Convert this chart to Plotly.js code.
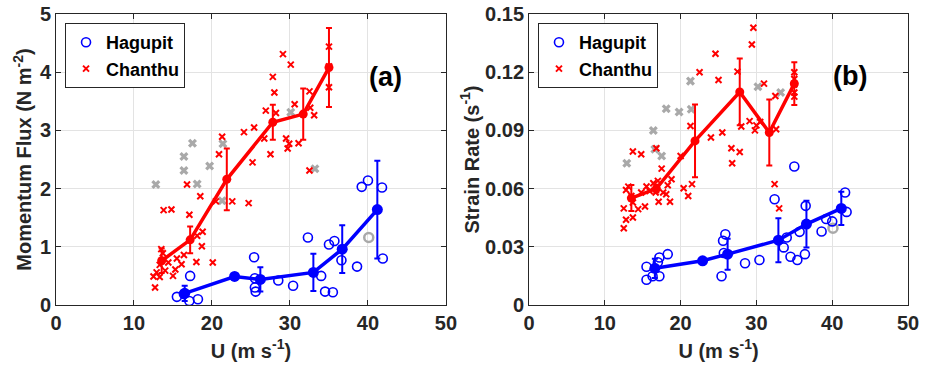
<!DOCTYPE html>
<html>
<head>
<meta charset="utf-8">
<script src="https://cdn.plot.ly/plotly-3.0.1.min.js"></script>
<style>html,body{margin:0;padding:0;background:#fff;}#chart{width:929px;height:368px;}</style>
</head>
<body>
<div id="chart"></div>
<script>
// ---------- Panel (a): Momentum flux ----------
const aChanthuX = [21.3,20.9,24.1,25.4,29.1,30.1,27.8,28.0,26.9,28.2,30.6,32.5,32.6,33.1,26.7,29.5,29.9,29.7,31.1,27.5,35.0,35.0,35.0,25.2,16.8,18.5,20.5,22.6,24.7,13.8,14.8,17.1,18.8,18.1,18.7,13.5,13.7,15.5,16.4,18.0,20.1,14.4,13.3,16.1,15.3,12.9,14.0,12.5,13.3,15.0,12.7,32.5];
const aChanthuY = [2.89,2.59,2.97,3.05,4.31,4.13,3.92,3.65,3.34,3.30,3.45,3.67,3.39,3.26,2.86,2.86,2.77,2.69,2.78,2.59,4.44,4.10,3.74,2.45,2.07,1.87,1.78,1.78,1.75,1.63,1.64,1.55,1.26,1.19,1.01,0.96,0.89,0.80,0.86,0.74,0.73,0.73,0.69,0.70,0.61,0.56,0.59,0.49,0.48,0.50,0.30,2.31];
const aGrayX = [17.5,21.4,16.4,16.4,19.7,12.8,18.1,21.3,30.1,33.2];
const aGrayY = [2.78,2.77,2.55,2.31,2.39,2.07,2.08,1.79,3.31,2.34];
const aHagupitX = [25.4,17.2,15.5,16.4,17.1,18.2,25.5,25.6,25.5,28.5,30.4,32.3,34.0,34.5,35.5,35.0,35.7,36.6,38.6,39.2,40.0,41.8,41.9];
const aHagupitY = [0.82,0.50,0.14,0.19,0.07,0.10,0.30,0.23,0.46,0.42,0.33,1.16,0.50,0.23,0.22,1.04,1.10,0.77,0.66,2.03,2.14,2.02,0.80];
const aGrayCircX = [40.1];
const aGrayCircY = [1.16];
const aHagMeanX = [16.5,22.9,26.2,33.0,36.7,41.2];
const aHagMeanY = [0.20,0.49,0.44,0.56,0.96,1.64];
const aHagErr   = [0.13,0.03,0.21,0.32,0.41,0.84];
const aChaMeanX = [13.55,17.2,21.9,27.8,31.7,35.0];
const aChaMeanY = [0.76,1.12,2.16,3.14,3.28,4.08];
const aChaErr   = [0.21,0.23,0.53,0.30,0.44,0.68];

// ---------- Panel (b): Strain rate ----------
const bChanthuX = [24.6,22.5,25.0,21.3,24.0,13.7,14.8,16.8,29.6,29.4,27.5,31.0,32.5,28.0,29.1,30.5,29.8,30.0,32.6,25.5,26.7,27.8,35.0,35.0,35.0,35.0,35.0,32.4,33.0,26.8,17.5,12.8,13.1,13.5,13.7,12.5,13.7,12.8,12.5,14.4,15.3,14.8,15.5,15.9,16.4,16.7,17.1,17.7,18.1,18.6,18.8,18.3,17.0,20.4,21.0,21.5,20.0];
const bChanthuY = [0.1295,0.120,0.116,0.0923,0.0863,0.0791,0.0777,0.0808,0.1429,0.1343,0.1203,0.1141,0.1077,0.092,0.0948,0.0943,0.090,0.0926,0.0906,0.0889,0.0808,0.0789,0.120,0.1165,0.1137,0.1095,0.1074,0.0623,0.0498,0.0731,0.0703,0.0593,0.061,0.0562,0.0528,0.0498,0.0451,0.0439,0.0396,0.0494,0.0508,0.058,0.0611,0.0588,0.0628,0.058,0.0532,0.058,0.0571,0.0532,0.0648,0.0617,0.064,0.0602,0.0562,0.0623,0.0768];
const bGrayX = [21.3,18.1,19.8,21.4,16.4,16.6,17.5,12.9,30.2,33.2];
const bGrayY = [0.1154,0.1012,0.0995,0.1009,0.090,0.0803,0.0768,0.0731,0.1125,0.1095];
const bHagupitX = [18.3,17.2,17.0,15.5,17.2,16.3,15.5,35.0,32.4,36.5,41.7,41.9,39.2,40.0,38.6,35.7,34.0,33.6,34.5,35.4,36.4,30.4,28.5,25.9,25.6,25.7,25.4];
const bHagupitY = [0.0262,0.0245,0.022,0.0197,0.0148,0.0148,0.013,0.0714,0.0545,0.0511,0.058,0.048,0.0443,0.0431,0.0379,0.0377,0.0348,0.0297,0.0249,0.0232,0.0262,0.0232,0.0215,0.0365,0.0331,0.0268,0.0148];
const bGrayCircX = [40.1];
const bGrayCircY = [0.0396];
const bHagMeanX = [16.6,22.9,26.2,32.9,36.6,41.2];
const bHagMeanY = [0.0189,0.0228,0.0262,0.0334,0.0417,0.0498];
const bHagErr   = [0.0050,0.0010,0.0080,0.0113,0.0120,0.0086];
const bChaMeanX = [13.5,16.8,21.9,27.8,31.7,35.0];
const bChaMeanY = [0.0551,0.0600,0.0846,0.1098,0.0889,0.1141];
const bChaErr   = [0.0067,0.0020,0.0187,0.0172,0.0170,0.0110];

const xTicks = [0,10,20,30,40,50];
const aYTicks = [0,1,2,3,4,5];
const bYTicks = [0,0.03,0.06,0.09,0.12,0.15];
const bYTickText = ['0','0.03','0.06','0.09','0.12','0.15'];

const BLUE = '#0000ff', RED = '#ff0000', GRAY = '#a9a9a9';
const FONT = 'Liberation Sans, Arial, Helvetica, sans-serif';

function panel(xa, ya, leg, d) {
  return [
    {x:d.gx, y:d.gy, xaxis:xa, yaxis:ya, type:'scatter', mode:'markers', showlegend:false,
     marker:{symbol:'x', size:8, color:GRAY, line:{width:0}}},
    {x:d.gcx, y:d.gcy, xaxis:xa, yaxis:ya, type:'scatter', mode:'markers', showlegend:false,
     marker:{symbol:'circle-open', size:9, color:GRAY, line:{width:2.5, color:GRAY}}},
    {x:d.cx, y:d.cy, xaxis:xa, yaxis:ya, type:'scatter', mode:'markers', name:'Chanthu', legend:leg, legendrank:2,
     marker:{symbol:'x-thin', size:6, color:RED, line:{width:2, color:RED}}},
    {x:d.hx, y:d.hy, xaxis:xa, yaxis:ya, type:'scatter', mode:'markers', name:'Hagupit', legend:leg, legendrank:1,
     marker:{symbol:'circle-open', size:9, color:BLUE, line:{width:1.6, color:BLUE}}},
    {x:d.cmx, y:d.cmy, xaxis:xa, yaxis:ya, type:'scatter', mode:'lines+markers', showlegend:false,
     line:{color:RED, width:3.5}, marker:{size:9, color:RED},
     error_y:{type:'data', array:d.cme, visible:true, color:RED, thickness:2, width:3}},
    {x:d.hmx, y:d.hmy, xaxis:xa, yaxis:ya, type:'scatter', mode:'lines+markers', showlegend:false,
     line:{color:BLUE, width:3.5}, marker:{size:11, color:BLUE},
     error_y:{type:'data', array:d.hme, visible:true, color:BLUE, thickness:2, width:3}}
  ];
}

const traces = [].concat(
  panel('x','y','legend',{gx:aGrayX,gy:aGrayY,gcx:aGrayCircX,gcy:aGrayCircY,cx:aChanthuX,cy:aChanthuY,hx:aHagupitX,hy:aHagupitY,
    cmx:aChaMeanX,cmy:aChaMeanY,cme:aChaErr,hmx:aHagMeanX,hmy:aHagMeanY,hme:aHagErr}),
  panel('x2','y2','legend2',{gx:bGrayX,gy:bGrayY,gcx:bGrayCircX,gcy:bGrayCircY,cx:bChanthuX,cy:bChanthuY,hx:bHagupitX,hy:bHagupitY,
    cmx:bChaMeanX,cmy:bChaMeanY,cme:bChaErr,hmx:bHagMeanX,hmy:bHagMeanY,hme:bHagErr})
);

const tickFont = {family:FONT, size:20, color:'#262626', weight:'bold'};
const titleFont = {family:FONT, size:20, color:'#262626', weight:'bold'};
const axBase = {showgrid:true, gridcolor:'#e3e3e3', gridwidth:1, zeroline:false, showline:true, linecolor:'#262626', linewidth:1,
  mirror:'ticks', ticks:'inside', ticklen:5, tickcolor:'#262626', tickfont:tickFont};

const legBase = {bgcolor:'#ffffff', bordercolor:'#262626', borderwidth:1, xanchor:'left', yanchor:'top',
  font:{family:FONT, size:18, color:'#000', weight:'bold'}, tracegroupgap:0, itemwidth:30};

const layout = {
  width:929, height:368,
  margin:{l:56, r:21, t:14, b:63},
  paper_bgcolor:'#fff', plot_bgcolor:'#fff',
  showlegend:true,
  xaxis:Object.assign({}, axBase, {domain:[0,0.4577], range:[0,50], tickvals:xTicks, anchor:'y',
    title:{text:'U (m s<sup>-1</sup>)', font:titleFont, standoff:10}}),
  yaxis:Object.assign({}, axBase, {domain:[0,1], range:[0,5], tickvals:aYTicks, anchor:'x',
    title:{text:'Momentum Flux (N m<sup>-2</sup>)', font:titleFont, standoff:2}}),
  xaxis2:Object.assign({}, axBase, {domain:[0.5552,1], range:[0,50], tickvals:xTicks, anchor:'y2',
    title:{text:'U (m s<sup>-1</sup>)', font:titleFont, standoff:10}}),
  yaxis2:Object.assign({}, axBase, {domain:[0,1], range:[0,0.15], tickvals:bYTicks, ticktext:bYTickText, anchor:'x2',
    title:{text:'Strain Rate (s<sup>-1</sup>)', font:titleFont, standoff:0}}),
  legend:Object.assign({}, legBase, {x:0.0106, y:0.969}),
  legend2:Object.assign({}, legBase, {x:0.5657, y:0.969}),
  annotations:[
    {xref:'x', yref:'y', x:42.3, y:3.92, text:'(a)', showarrow:false, font:{family:FONT, size:27, color:'#000', weight:'bold'}},
    {xref:'x2', yref:'y2', x:42.3, y:0.118, text:'(b)', showarrow:false, font:{family:FONT, size:27, color:'#000', weight:'bold'}}
  ]
};

Plotly.newPlot('chart', traces, layout, {displayModeBar:false, staticPlot:true});
</script>
</body>
</html>
